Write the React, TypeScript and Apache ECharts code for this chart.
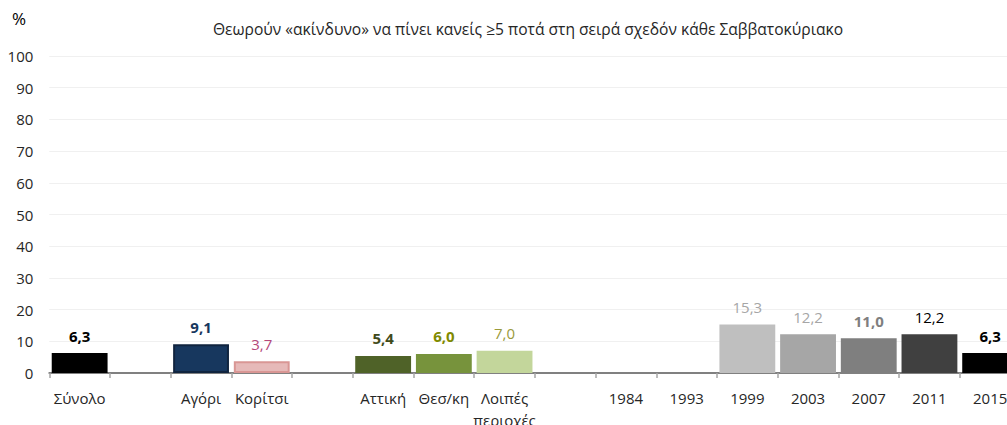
import React, { useEffect, useRef } from "react";
import * as echarts from "echarts";

const categories = [
  "Σύνολο", "", "Αγόρι", "Κορίτσι", "", "Αττική", "Θεσ/κη", "Λοιπές\nπεριοχές",
  "", "1984", "1993", "1999", "2003", "2007", "2011", "2015",
];
const values: (number | null)[] = [
  6.3, null, 9.1, 3.7, null, 5.4, 6.0, 7.0, null, null, null, 15.3, 12.2, 11.0, 12.2, 6.3,
];
const yTicks = [0, 100, 10];
const titleText = "Θεωρούν «ακίνδυνο» να πίνει κανείς ≥5 ποτά στη σειρά σχεδόν κάθε Σαββατοκύριακο";

// styles per category index
const barColors = [
  "#000000", "#000", "#17375E", "#E6B9B8", "#000", "#4F6228", "#77933C", "#C3D69B",
  "#000", "#000", "#000", "#BFBFBF", "#A6A6A6", "#7F7F7F", "#404040", "#000000",
];
const barBorders: (string | null)[] = [
  null, null, "#10243F", "#D99694", null, null, null, null, null, null, null, null, null, null, null, null,
];
const labelColors = [
  "#000000", "#000", "#17375E", "#B5487A", "#000", "#3F4A1A", "#808A00", "#9A9A3A",
  "#000", "#000", "#000", "#A6A6A6", "#A6A6A6", "#7F7F7F", "#000000", "#000000",
];
const labelBold = [
  true, false, true, false, false, true, true, false, false, false, false, false, false, true, false, true,
];

const FONT = "'Open Sans', 'Noto Sans', sans-serif";

export default function App() {
  const ref = useRef<HTMLDivElement>(null);
  useEffect(() => {
    if (!ref.current) return;
    const chart = echarts.init(ref.current, undefined, { renderer: "svg" });
    const data = values.map((v, i) => {
      if (v === null) return { value: null };
      const b = barBorders[i];
      return {
        value: v,
        itemStyle: {
          color: barColors[i],
          borderColor: b || barColors[i],
          borderWidth: b ? 2 : 0,
        },
        label: {
          color: labelColors[i],
          fontWeight: labelBold[i] ? "bold" : "normal",
        },
      };
    });
    chart.setOption({
      animation: false,
      textStyle: { fontFamily: FONT },
      grid: {
        left: 49.3,
        right: -13.5,
        top: 56,
        bottom: 52,
        containLabel: false,
        outerBoundsMode: "none",
      },
      graphic: [
        {
          type: "text",
          left: 12,
          top: 10,
          style: { text: "%", fontSize: 17, fontFamily: FONT, fill: "#000" },
        },
        {
          type: "text",
          x: 528,
          y: 21,
          style: {
            text: titleText,
            fontSize: 15.6,
            fontFamily: FONT,
            fill: "#262626",
            textAlign: "center",
          },
        },
      ],
      xAxis: {
        type: "category",
        data: categories,
        axisLine: { lineStyle: { color: "#808080", width: 2 } },
        axisTick: { show: true, length: 5, lineStyle: { color: "#A6A6A6", width: 1.5 } },
        axisLabel: {
          interval: 0,
          fontSize: 15,
          color: "#262626",
          margin: 14,
          lineHeight: 22,
          fontFamily: FONT,
        },
      },
      yAxis: {
        type: "value",
        min: yTicks[0],
        max: yTicks[1],
        interval: yTicks[2],
        axisLine: { show: false },
        axisTick: { show: false },
        splitLine: { lineStyle: { color: "#F0F0F0", width: 1 } },
        axisLabel: { fontSize: 15, color: "#262626", margin: 16, fontFamily: FONT },
      },
      series: [
        {
          type: "bar",
          data,
          barCategoryGap: "8%",
          label: {
            show: true,
            position: "top",
            distance: 10,
            fontSize: 15,
            fontFamily: FONT,
            formatter: (p: any) => (p.value == null ? "" : Number(p.value).toFixed(1).replace(".", ",")),
          },
        },
      ],
    });
    return () => chart.dispose();
  }, []);
  return <div ref={ref} style={{ width: 1007, height: 425, position: "absolute", left: 0, top: 0 }} />;
}
